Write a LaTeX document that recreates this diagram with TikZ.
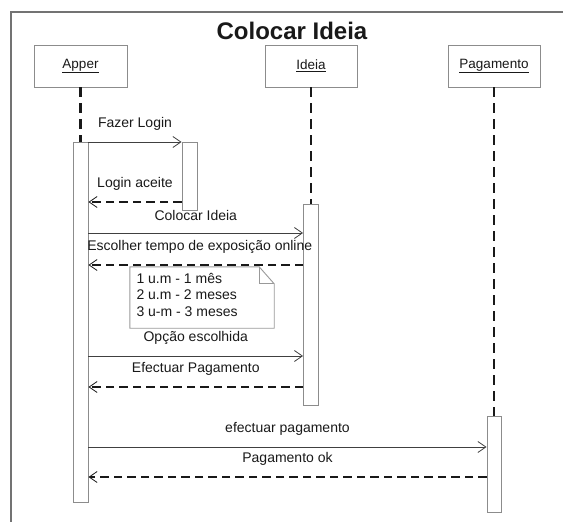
\documentclass[tikz,border=0pt]{standalone}
\usepackage{fontspec}
\setmainfont{Liberation Sans}
\usetikzlibrary{arrows.meta,calc}
\begin{document}
\begin{tikzpicture}[x=1pt,y=-1pt,
  objbox/.style={draw=black!45,line width=0.9pt,fill=white,minimum width=92pt,minimum height=42pt,inner sep=0pt,font=\fontsize{13.5}{16}\selectfont,text=black!90},
  actbox/.style={draw=black!45,line width=0.9pt,fill=white,minimum width=15pt,inner sep=0pt},
  lifeline/.style={line width=2.5pt,dash pattern=on 10pt off 6pt,black!90},
  msg/.style={draw=black!75,line width=0.8pt,-{Straight Barb[length=8pt,width=11pt,line width=0.8pt]}},
  ret/.style={black!90,line width=2.4pt,dash pattern=on 8.5pt off 5pt,-{Straight Barb[length=8pt,width=11pt,line width=0.8pt]}},
  lbl/.style={font=\fontsize{14}{16}\selectfont,text=black!90,yshift=18pt,inner sep=0pt}
]
\useasboundingbox (0,0) rectangle (563,522);
% frame
\draw[black!55,line width=1.2pt] (11,522) -- (11,12) -- (563,12);
\node[font=\bfseries\fontsize{24}{28}\selectfont,text=black!90] (title) at (292,31) {Colocar Ideia};
% objects
\node[objbox,minimum width=93pt] (apper) at (80.5,66) {\underline{Apper}};
\node[objbox] (ideia) at (311,66) {\underline{Ideia}};
\node[objbox] (pag) at (494,66) {\underline{Pagamento}};
% activations
\node[actbox,minimum height=360pt] (actA) at (80.5,322) {};
\node[actbox,minimum height=68pt] (actL) at (189.5,176) {};
\node[actbox,minimum height=201pt] (actI) at (311,304.5) {};
\node[actbox,minimum width=14pt,minimum height=96pt] (actP) at (494,464) {};
% lifelines
\draw[lifeline] (apper.south) -- (actA.north);
\draw[lifeline] (ideia.south) -- (actI.north);
\draw[lifeline] (pag.south) -- (actP.north);
% messages
\draw[msg] (actA.east |- 0,142) -- node[lbl]{Fazer Login} (actL.west |- 0,142);
\draw[ret] (actL.west |- 0,202) -- node[lbl]{Login aceite} (actA.east |- 0,202);
\draw[msg] (actA.east |- 0,233) -- node[lbl]{Colocar Ideia} (actI.west |- 0,233);
\draw[ret] (actI.west |- 0,265) -- node[lbl,xshift=4pt]{Escolher tempo de exposição online} (actA.east |- 0,265);
\draw[msg] (actA.east |- 0,356) -- node[lbl]{Opção escolhida} (actI.west |- 0,356);
\draw[ret] (actI.west |- 0,387) -- node[lbl]{Efectuar Pagamento} (actA.east |- 0,387);
\draw[msg] (actA.east |- 0,447) -- node[lbl]{efectuar pagamento} (actP.west |- 0,447);
\draw[ret] (actP.west |- 0,477) -- node[lbl]{Pagamento ok} (actA.east |- 0,477);
% note
\node[minimum width=144pt,minimum height=61pt,inner sep=0pt] (note) at (202,297.5) {};
\fill[white] (note.north west) rectangle (note.south east);
\draw[black!40,line width=0.9pt] (note.north west) -- ([xshift=-15pt]note.north east) -- ([yshift=-17pt]note.north east) -- (note.south east) -- (note.south west) -- cycle;
\draw[black!40,line width=0.9pt] ([xshift=-15pt]note.north east) |- ([yshift=-17pt]note.north east);
\node[anchor=north west,align=left,inner sep=0pt,font=\fontsize{14}{16.5}\selectfont,text=black!90] (notetext) at ([xshift=6.5pt,yshift=-6pt]note.north west) {1 u.m - 1 mês\\2 u.m - 2 meses\\3 u-m - 3 meses};
\end{tikzpicture}
\end{document}
